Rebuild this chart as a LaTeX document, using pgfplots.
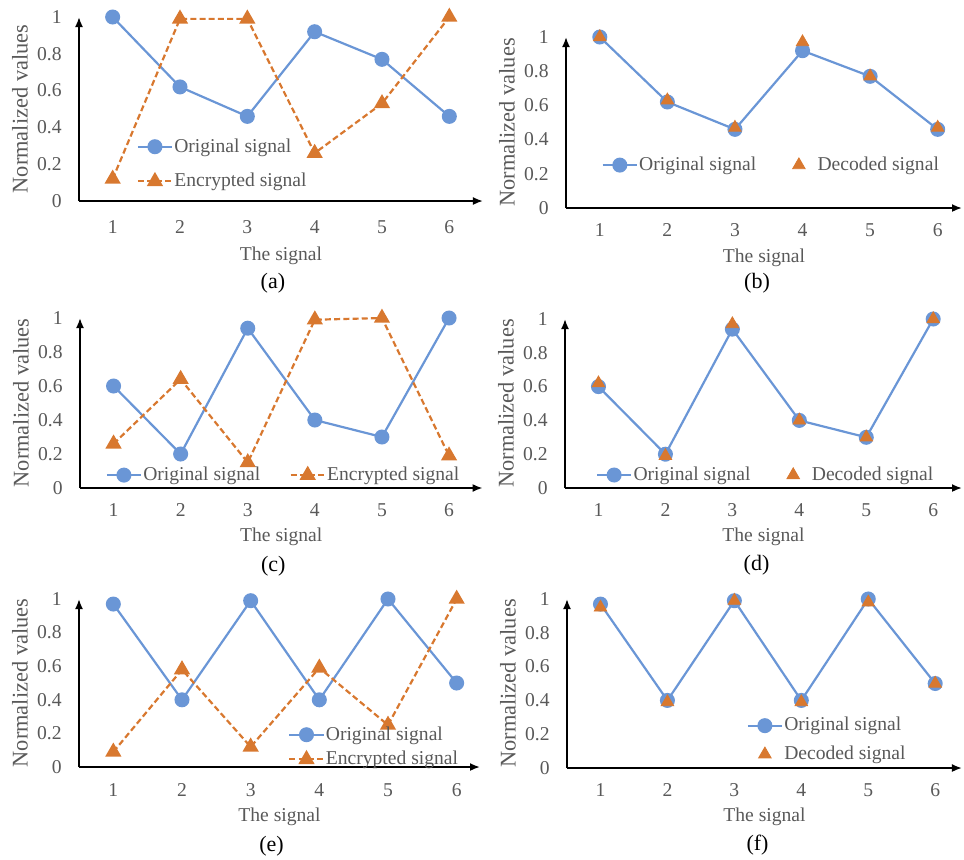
\documentclass[border=0pt]{standalone}
\usepackage{pgfplots}
\pgfplotsset{compat=1.18}
\usepackage{fontspec}
\setmainfont{Liberation Serif}
\usetikzlibrary{arrows.meta}
\definecolor{cblue}{HTML}{6A96D6}
\definecolor{corange}{HTML}{D8782F}
\definecolor{txtgray}{HTML}{595959}
\newcommand{\fs}{\fontsize{9.8}{11}\selectfont}
\pgfplotsset{
 panel/.style={
  scale only axis, axis lines=left, clip=false,
  axis line style={line width=0.9pt, -{Latex[length=5pt,width=4pt]}},
  xmin=0.5, ymin=0, ymax=1,
  xtick={1,2,3,4,5,6}, ytick={0,0.2,0.4,0.6,0.8,1},
  xticklabels={1,2,3,4,5,6},
  yticklabels={0,0.2,0.4,0.6,0.8,1},
  major tick length=0pt,
  tick label style={text=txtgray, font=\fs},
  yticklabel style={anchor=east, inner sep=0pt, xshift=-8.5pt},
  xlabel={The signal}, ylabel={Normalized values},
  every axis y label/.style={at={(axis description cs:0,0.5)}, rotate=90, anchor=center, yshift=29.5pt, text=txtgray, font=\fontsize{11.2}{13}\selectfont},
  legend cell align=left,
  legend style={draw=none, fill=none, font=\fs, text=txtgray, inner sep=0pt, outer sep=0pt, nodes={inner xsep=0.6pt, inner ysep=2pt}},
 },
 xlab/.style={every axis x label/.style={at={(axis description cs:0.5,0)}, anchor=center, yshift=-#1, text=txtgray, font=\fs}},
 xtl/.style={xticklabel style={anchor=north, inner sep=0pt, yshift=-#1}},
 orig/.style={color=cblue, line width=1.1pt, mark=*, mark size=3.2pt, mark options={solid, fill=cblue, draw=cblue}},
 enc/.style={color=corange, line width=1.1pt, dash pattern=on 3pt off 1.6pt, mark=triangle*, mark size=3.6pt, mark options={solid, fill=corange, draw=corange}},
 dec/.style={color=corange, only marks, mark=triangle*, mark size=3.6pt, mark options={solid, fill=corange, draw=corange},
   legend image code/.code={\path (0cm,0cm) (0.6cm,0cm); \draw plot coordinates {(0.3cm,0cm)};}},
}
\begin{document}
\begin{tikzpicture}
\useasboundingbox (0,0) rectangle (482pt,-429.5pt);
% (a)
\begin{axis}[panel, at={(39.5pt,-100.5pt)}, anchor=origin, width=202pt, height=92pt, xmax=6.5,
  xlab=27.5pt, xtl=9.5pt,
  legend style={at={(0.143,0.201)}, anchor=west, row sep=5pt}]
\addplot[orig] coordinates {(1,1.00) (2,0.62) (3,0.46) (4,0.92) (5,0.77) (6,0.46)};
\addplot[enc] coordinates {(1,0.12) (2,0.99) (3,0.99) (4,0.26) (5,0.53) (6,1.00)};
\legend{Original signal, Encrypted signal}
\node[font=\fontsize{11}{13}\selectfont, black, yshift=-41pt] at (rel axis cs:0.48,0) {(a)};
\end{axis}
% (b)
\begin{axis}[panel, at={(283pt,-104pt)}, anchor=origin, width=198pt, height=85.5pt, xmax=6.36,
  xlab=25pt, xtl=7.7pt,
  legend columns=2,
  legend style={at={(0.09,0.251)}, anchor=west, /tikz/every even column/.append style={column sep=12pt}}]
\addplot[orig] coordinates {(1,1.00) (2,0.62) (3,0.46) (4,0.92) (5,0.77) (6,0.46)};
\addplot[dec] coordinates {(1,1.00) (2,0.63) (3,0.47) (4,0.97) (5,0.77) (6,0.47)};
\legend{Original signal, Decoded signal}
\node[font=\fontsize{11}{13}\selectfont, black, yshift=-37.5pt, xshift=-3.5pt] at (rel axis cs:0.5,0) {(b)};
\end{axis}
% (c)
\begin{axis}[panel, at={(40pt,-244pt)}, anchor=origin, width=201.3pt, height=85pt, xmax=6.5,
  xlab=24.5pt, xtl=7.7pt,
  legend columns=2,
  legend style={at={(0.064,0.076)}, anchor=west, /tikz/every even column/.append style={column sep=14pt}}]
\addplot[orig] coordinates {(1,0.60) (2,0.20) (3,0.94) (4,0.40) (5,0.30) (6,1.00)};
\addplot[enc] coordinates {(1,0.26) (2,0.64) (3,0.15) (4,0.99) (5,1.00) (6,0.19)};
\legend{Original signal, Encrypted signal}
\node[font=\fontsize{11}{13}\selectfont, black, yshift=-39pt] at (rel axis cs:0.48,0) {(c)};
\end{axis}
% (d)
\begin{axis}[panel, at={(282.5pt,-244pt)}, anchor=origin, width=198.5pt, height=84.5pt, xmax=6.43,
  xlab=24.5pt, xtl=7.7pt,
  legend columns=2,
  legend style={at={(0.078,0.077)}, anchor=west, /tikz/every even column/.append style={column sep=12pt}}]
\addplot[orig] coordinates {(1,0.60) (2,0.20) (3,0.94) (4,0.40) (5,0.30) (6,1.00)};
\addplot[dec] coordinates {(1,0.62) (2,0.19) (3,0.97) (4,0.40) (5,0.30) (6,1.00)};
\legend{Original signal, Decoded signal}
\node[font=\fontsize{11}{13}\selectfont, black, yshift=-38.5pt, xshift=-3.5pt] at (rel axis cs:0.5,0) {(d)};
\end{axis}
% (e)
\begin{axis}[panel, at={(39.5pt,-383.5pt)}, anchor=origin, width=200.5pt, height=84pt, xmax=6.34,
  xlab=25pt, xtl=8pt,
  legend style={at={(0.522,0.119)}, anchor=west, row sep=0pt}]
\addplot[orig] coordinates {(1,0.97) (2,0.40) (3,0.99) (4,0.40) (5,1.00) (6,0.50)};
\addplot[enc] coordinates {(1,0.09) (2,0.58) (3,0.12) (4,0.59) (5,0.25) (6,1.00)};
\legend{Original signal, Encrypted signal}
\node[font=\fontsize{11}{13}\selectfont, black, yshift=-39.5pt] at (rel axis cs:0.48,0) {(e)};
\end{axis}
% (f)
\begin{axis}[panel, at={(283.5pt,-384pt)}, anchor=origin, width=197.5pt, height=84.5pt, xmax=6.4,
  xlab=24.5pt, xtl=7.7pt,
  legend style={at={(0.455,0.166)}, anchor=west, row sep=2pt}]
\addplot[orig] coordinates {(1,0.97) (2,0.40) (3,0.99) (4,0.40) (5,1.00) (6,0.50)};
\addplot[dec] coordinates {(1,0.95) (2,0.39) (3,0.99) (4,0.39) (5,0.98) (6,0.50)};
\legend{Original signal, Decoded signal}
\node[font=\fontsize{11}{13}\selectfont, black, yshift=-38.5pt, xshift=-3.5pt] at (rel axis cs:0.5,0) {(f)};
\end{axis}
\end{tikzpicture}
\end{document}
